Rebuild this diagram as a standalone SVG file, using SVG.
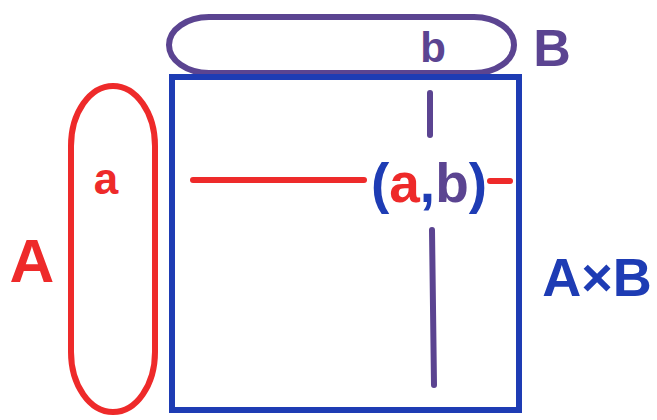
<svg xmlns="http://www.w3.org/2000/svg" width="657" height="420" viewBox="0 0 657 420">
<style>
.red{stroke:#ee2a2a;fill:none;stroke-width:6;stroke-linecap:round}
.pur{stroke:#5b4491;fill:none;stroke-width:6;stroke-linecap:round}
.blu{stroke:#1e3cb4;fill:none;stroke-width:6;stroke-linecap:round}
text{font-family:"Liberation Sans",Arial,sans-serif;font-weight:bold}
</style>
<rect width="657" height="420" fill="#fff"/>
<g id="setA">
<rect class="red" x="71" y="86" width="84" height="326" rx="42" ry="60"/>
<text x="32" y="282" font-size="62" fill="#ee2a2a" text-anchor="middle">A</text>
<text x="106" y="194" font-size="44" fill="#ee2a2a" text-anchor="middle">a</text>
</g>
<g id="setB">
<rect class="pur" x="169" y="17" width="345" height="56" rx="40" ry="28"/>
<text x="433" y="62" font-size="42" fill="#5b4491" text-anchor="middle">b</text>
<text x="552" y="66" font-size="52" fill="#5b4491" text-anchor="middle">B</text>
</g>
<g id="product">
<rect class="blu" x="172" y="77" width="347" height="333"/>
<text x="597" y="296" font-size="54" fill="#1e3cb4" text-anchor="middle">A×B</text>
</g>
<g id="connectors">
<line class="red" x1="193" y1="180" x2="364" y2="180"/>
<line class="red" x1="490" y1="181" x2="510" y2="181"/>
<line class="pur" x1="430" y1="93" x2="430" y2="135"/>
<line class="pur" x1="432" y1="230" x2="434" y2="385"/>
</g>
<g id="pair">
<text x="429" y="202" font-size="56" text-anchor="middle" textLength="116" lengthAdjust="spacingAndGlyphs"><tspan fill="#1e3cb4">(</tspan><tspan fill="#ee2a2a">a</tspan><tspan fill="#1e3cb4">,</tspan><tspan fill="#5b4491">b</tspan><tspan fill="#1e3cb4">)</tspan></text>
</g>
</svg>
